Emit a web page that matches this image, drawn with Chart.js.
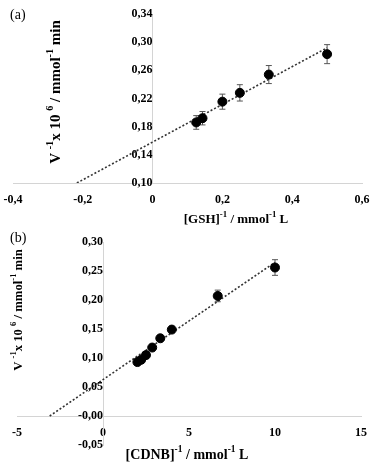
<!DOCTYPE html>
<html><head><meta charset="utf-8">
<script src="https://cdn.jsdelivr.net/npm/chart.js@4.4.1/dist/chart.umd.min.js"></script>
<style>
html,body{margin:0;padding:0;background:#fff;}
#wrap{position:relative;width:375px;height:464px;overflow:hidden;}
.box{position:absolute;left:0;width:375px;}
#ba{top:0;height:225px;}
#bb{top:225px;height:239px;}
</style></head><body>
<div id="wrap">
  <div class="box" id="ba"><canvas id="ca"></canvas></div>
  <div class="box" id="bb"><canvas id="cb"></canvas></div>
</div>
<script>
// ---- Panel (a): GSH ----
const gshX = [0.125, 0.143, 0.2, 0.25, 0.333, 0.5];
const gshY = [0.186, 0.192, 0.2155, 0.228, 0.254, 0.283];
const gshErr = [0.0097, 0.0095, 0.0107, 0.0116, 0.0128, 0.0135];
const gshTrendX = [-0.217, 0.5];
const gshTrendY = [0.10, 0.292];
// ---- Panel (b): CDNB ----
const cdnbX = [2, 2.22, 2.5, 2.86, 3.33, 4, 6.67, 10];
const cdnbY = [0.093, 0.097, 0.105, 0.118, 0.134, 0.149, 0.207, 0.256];
const cdnbErr = [0.003, 0.003, 0.003, 0.003, 0.004, 0.004, 0.010, 0.0135];
const cdnbTrendX = [-3.1, 10];
const cdnbTrendY = [0.0, 0.265];

const SERIF = "'Liberation Serif', 'Times New Roman', serif";

function pts(xs, ys){ return xs.map((x,i)=>({x:x, y:ys[i]})); }

function drawRich(ctx, segs, cx, cy, size, rotate){
  const big = 'bold ' + size + 'px ' + SERIF;
  const small = 'bold ' + (size*0.68).toFixed(1) + 'px ' + SERIF;
  let total = 0;
  const widths = segs.map(s => { ctx.font = s[1] ? small : big; const w = ctx.measureText(s[0]).width; total += w; return w; });
  ctx.save();
  ctx.translate(cx, cy);
  if (rotate) ctx.rotate(-Math.PI/2);
  ctx.fillStyle = '#000';
  ctx.textBaseline = 'middle';
  ctx.textAlign = 'left';
  let x = -total/2;
  segs.forEach((s,i) => {
    ctx.font = s[1] ? small : big;
    ctx.fillText(s[0], x, s[1] ? -size*0.38 : 0);
    x += widths[i];
  });
  ctx.restore();
}

const errorBars = {
  id: 'errorBars',
  beforeDatasetsDraw(chart, args, opts){
    const {ctx, scales:{x, y}} = chart;
    ctx.save();
    ctx.strokeStyle = '#555';
    ctx.lineWidth = 1;
    opts.xs.forEach((xv,i) => {
      const px = x.getPixelForValue(xv);
      const top = y.getPixelForValue(opts.ys[i] + opts.errs[i]);
      const bot = y.getPixelForValue(opts.ys[i] - opts.errs[i]);
      ctx.beginPath();
      ctx.moveTo(px, top); ctx.lineTo(px, bot);
      ctx.moveTo(px-3, top); ctx.lineTo(px+3, top);
      ctx.moveTo(px-3, bot); ctx.lineTo(px+3, bot);
      ctx.stroke();
    });
    ctx.restore();
  }
};

const titles = {
  id: 'titles',
  afterDraw(chart, args, o){
    const ctx = chart.ctx;
    ctx.save();
    ctx.fillStyle = '#000';
    ctx.font = '14px ' + SERIF;
    ctx.textBaseline = 'middle';
    ctx.textAlign = 'left';
    ctx.fillText(o.panel, o.panelX, o.panelY);
    ctx.restore();
    drawRich(ctx, o.ySegs, o.yX, o.yY, o.ySize, true);
    drawRich(ctx, o.xSegs, o.xX, o.xY, o.xSize, false);
  }
};

const tickFont = {family: SERIF, size: 12, weight: 'bold'};
const axisColor = '#d4d4d4';
const noPad = s => { s.paddingLeft = 0; s.paddingRight = 0; s.paddingTop = 0; s.paddingBottom = 0; };

function makeChart(id, cfg){
  return new Chart(document.getElementById(id), {
    type: 'scatter',
    data: {
      datasets: [
        {data: pts(cfg.xs, cfg.ys), backgroundColor: '#000', borderColor: '#000', pointRadius: 4.5, pointHoverRadius: 4.5, showLine: false},
        {data: pts(cfg.tx, cfg.ty), showLine: true, borderColor: '#333', borderWidth: 1.6, borderDash: [2, 2], pointRadius: 0, fill: false}
      ]
    },
    options: {
      responsive: true,
      maintainAspectRatio: false,
      animation: false,
      events: [],
      layout: {padding: cfg.padding},
      plugins: {
        legend: {display: false},
        tooltip: {enabled: false},
        errorBars: {xs: cfg.xs, ys: cfg.ys, errs: cfg.errs},
        titles: cfg.titles
      },
      scales: {
        x: {
          type: 'linear', min: cfg.xMin, max: cfg.xMax,
          position: {y: cfg.xAxisAt},
          afterFit: noPad,
          grid: {drawOnChartArea: false, drawTicks: false, color: axisColor},
          border: {color: axisColor, width: 1},
          ticks: {stepSize: cfg.xStep, font: tickFont, color: '#000', padding: 10, maxRotation: 0, autoSkip: false, callback: cfg.xFmt}
        },
        y: {
          type: 'linear', min: cfg.yMin, max: cfg.yMax,
          position: {x: 0},
          afterFit: noPad,
          grid: {drawOnChartArea: false, drawTicks: false, color: axisColor},
          border: {color: axisColor, width: 1},
          ticks: {stepSize: cfg.yStep, font: tickFont, color: '#000', padding: 9, autoSkip: false, callback: cfg.yFmt}
        }
      }
    },
    plugins: [errorBars, titles]
  });
}

const comma = (v, d) => v.toFixed(d).replace('.', ',');

makeChart('ca', {
  xs: gshX, ys: gshY, errs: gshErr, tx: gshTrendX, ty: gshTrendY,
  padding: {left: 13, right: 13, top: 14, bottom: 42},
  xMin: -0.4, xMax: 0.6, xStep: 0.2, xAxisAt: 0.10,
  yMin: 0.10, yMax: 0.34, yStep: 0.04,
  xFmt: v => Math.abs(v) < 1e-9 ? '0' : comma(v, 1),
  yFmt: v => comma(v, 2),
  titles: {
    panel: '(a)', panelX: 10, panelY: 15,
    ySegs: [['V ',0],['-1',1],['x 10 ',0],['6',1],[' / mmol',0],['-1',1],[' min',0]],
    yX: 56, yY: 92, ySize: 15,
    xSegs: [['[GSH]',0],['-1',1],[' / mmol',0],['-1',1],[' L',0]],
    xX: 236, xY: 220, xSize: 13
  }
});

makeChart('cb', {
  xs: cdnbX, ys: cdnbY, errs: cdnbErr, tx: cdnbTrendX, ty: cdnbTrendY,
  padding: {left: 17, right: 14, top: 17, bottom: 19},
  xMin: -5, xMax: 15, xStep: 5, xAxisAt: 0,
  yMin: -0.05, yMax: 0.30, yStep: 0.05,
  xFmt: v => String(Math.round(v)),
  yFmt: v => comma(v, 2),
  titles: {
    panel: '(b)', panelX: 10, panelY: 13,
    ySegs: [['V ',0],['-1',1],['x 10 ',0],['6',1],[' / mmol',0],['-1',1],[' min',0]],
    yX: 19, yY: 85, ySize: 12.7,
    xSegs: [['[CDNB]',0],['-1',1],[' / mmol',0],['-1',1],[' L',0]],
    xX: 187, xY: 230, xSize: 14
  }
});
</script>
</body></html>
